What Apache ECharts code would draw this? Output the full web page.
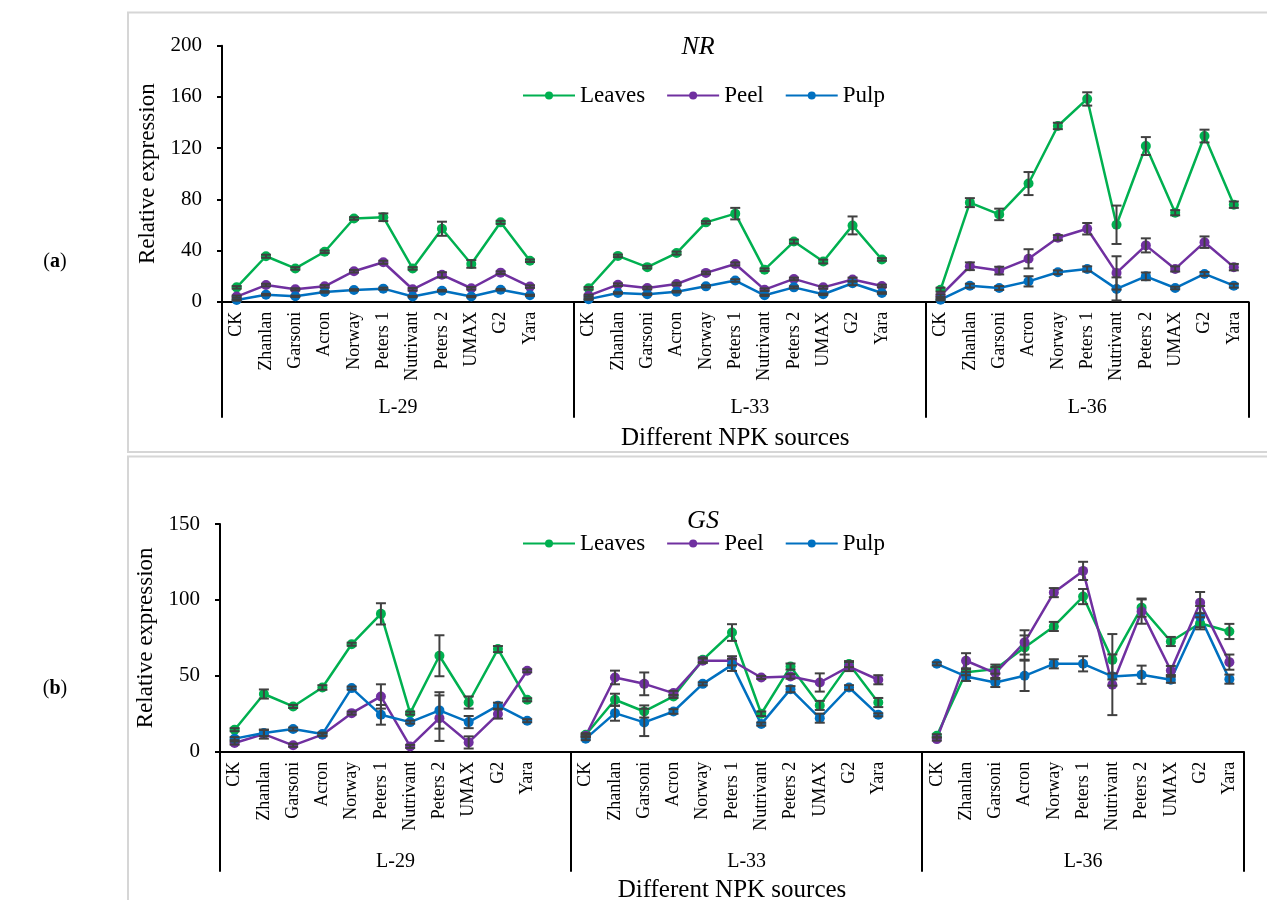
<!DOCTYPE html>
<html>
<head>
<meta charset="utf-8">
<script src="https://cdn.jsdelivr.net/npm/echarts@6/dist/echarts.min.js"></script>
<style>
html,body{margin:0;padding:0;background:#fff}
#chart{width:1267px;height:900px}
</style>
</head>
<body>
<div id="chart"></div>
<script>
// NPK fertiliser sources (one block per line) and the three lines
const SOURCES = ['CK','Zhanlan','Garsoni','Acron','Norway','Peters 1','Nutrivant','Peters 2','UMAX','G2','Yara'];
const LINES = ['L-29','L-33','L-36'];
const TISSUES = ['Leaves','Peel','Pulp'];

// NR relative expression, one row per line (L-29, L-33, L-36)
const NR_LEAVES = [
  [11.2, 35.5, 26, 39, 65, 66, 26, 57, 29.5, 62, 32],
  [10.5, 35.8, 27, 38, 62, 68.8, 25, 47, 31.4, 59.6, 33],
  [9.4, 77.4, 68.2, 92.3, 137.3, 158.4, 60.1, 121.6, 69.5, 129.4, 75.8]
];
const NR_LEAVES_SD = [
  [1, 1.2, 1, 1, 1, 3, 1, 5.5, 3, 1.2, 1],
  [1, 1, 1, 1.2, 1, 4.5, 1, 1.5, 1.5, 7, 1],
  [1.5, 3.5, 4.5, 9, 2.5, 5.2, 15, 7, 2, 5, 2.5]
];
const NR_PEEL = [
  [4, 13, 9.7, 12, 23.8, 30.8, 9.7, 21, 10.5, 22.7, 11.8],
  [4.7, 13.3, 10.7, 13.8, 22.5, 29.5, 9.4, 17.8, 11.2, 17.3, 12.3],
  [4.7, 27.7, 24.3, 33.5, 50, 57, 22.5, 44, 25.6, 46.5, 27]
];
const NR_PEEL_SD = [
  [0.8, 1, 0.8, 1, 1, 1.2, 1, 2, 1, 1, 1],
  [0.8, 1, 1, 1, 1, 1.2, 1, 1, 1, 1.5, 1],
  [1, 3, 3, 7.5, 2, 4.5, 13, 5.5, 2, 4.5, 2.5]
];
const NR_PULP = [
  [1.3, 5.5, 4.2, 7.6, 9.2, 10.2, 4, 8.6, 4, 9.4, 5],
  [2, 6.8, 5.8, 7.8, 12, 16.5, 5, 11.2, 5.8, 14.4, 6.8],
  [1.6, 12.5, 10.7, 15.9, 23, 25.6, 10, 19.8, 10.7, 21.7, 12.5]
];
const NR_PULP_SD = [
  [0.5, 0.6, 0.5, 0.6, 0.6, 0.8, 0.5, 0.6, 0.5, 0.6, 0.5],
  [0.5, 0.6, 0.6, 0.6, 0.8, 1, 0.5, 0.8, 0.6, 1.5, 0.6],
  [0.6, 1.5, 1.5, 4, 1.5, 2, 9, 3, 1, 1.5, 1.5]
];

// GS relative expression
const GS_LEAVES = [
  [14.5, 38, 29.8, 42.3, 70.8, 90.8, 25.4, 63.2, 32.4, 67.6, 34.2],
  [11.2, 34.2, 26.5, 36.4, 60.5, 78.5, 25, 56.1, 30.5, 57.7, 32.4],
  [10.5, 52.4, 54.4, 68.6, 82.5, 102.2, 60.5, 94.9, 72.6, 84.6, 79.2]
];
const GS_LEAVES_SD = [
  [1, 3, 1, 1.5, 1, 7, 1, 13.5, 4, 2, 1],
  [1, 4, 4, 1, 1.5, 5.5, 1.5, 2, 3, 2, 3],
  [1, 2, 3, 8, 3, 5, 17, 6, 3, 4, 5]
];
const GS_PEEL = [
  [5.7, 11.6, 4.2, 11.2, 25.4, 36.4, 3.5, 22.1, 6.1, 24.8, 53.3],
  [10.5, 48.9, 44.7, 38.6, 59.9, 59.9, 48.9, 49.6, 45.6, 56.1, 47.4],
  [8.3, 59.9, 51.8, 72, 104.8, 119.1, 44.1, 92.3, 53.5, 98.2, 59]
];
const GS_PEEL_SD = [
  [1, 3, 1, 1, 1, 8, 1, 15, 4, 3, 1],
  [1, 4.5, 7.5, 1.5, 1.5, 3, 1, 1.5, 6, 3, 3],
  [1, 5, 4, 8, 3, 6, 20, 8, 3, 7, 5]
];
const GS_PULP = [
  [8.6, 12.3, 14.9, 11.6, 41.9, 24.3, 19.5, 27.2, 19.5, 30.3, 20.4],
  [8.6, 25.4, 19.3, 26.5, 44.7, 57.2, 18.2, 41.2, 22.1, 42.3, 24.3],
  [57.9, 49.6, 45.6, 50, 57.9, 57.9, 49.6, 50.7, 47.4, 89, 47.8]
];
const GS_PULP_SD = [
  [1, 2, 1, 1, 1, 6.5, 1, 12, 4, 2, 1],
  [1, 5, 9, 1.5, 1, 4, 1, 2, 3, 1.5, 1],
  [1, 3, 3, 10, 3, 5, 2, 6, 2, 7, 3]
];

// axis ticks
const NR_TICKS = { min: 0, max: 200, interval: 40 };
const GS_TICKS = { min: 0, max: 150, interval: 50 };

const COLORS = { Leaves: '#00B050', Peel: '#7030A0', Pulp: '#0070C0' };
const FONT = '"Liberation Serif", "Times New Roman", serif';

// one empty slot after each block so the lines break between blocks
const categories = [];
LINES.forEach((l, g) => { if (g) categories.push(''); categories.push(...SOURCES); });
function flat(groups) {
  const out = [];
  groups.forEach((arr, g) => { if (g) out.push(null); out.push(...arr); });
  return out;
}
function errData(vals, sds) {
  const v = flat(vals), e = flat(sds);
  const out = [];
  v.forEach((y, i) => { if (y != null) out.push([i, y, e[i]]); });
  return out;
}
// block boundaries and centres along the category axis
const bounds = [];
const centres = [];
LINES.forEach((l, g) => {
  const start = g * (SOURCES.length + 1);
  const end = g === LINES.length - 1 ? categories.length : start + SOURCES.length + 1;
  bounds.push(start);
  if (g === LINES.length - 1) bounds.push(end);
  centres.push((start + end) / 2);
});

function errorRender(params, api) {
  const x = api.value(0), y = api.value(1), e = api.value(2);
  const hi = api.coord([x, y + e]);
  const lo = api.coord([x, y - e]);
  const w = 5;
  const st = { stroke: '#404040', lineWidth: 2 };
  return {
    type: 'group',
    children: [
      { type: 'line', shape: { x1: hi[0], y1: hi[1], x2: lo[0], y2: lo[1] }, style: st },
      { type: 'line', shape: { x1: hi[0] - w, y1: hi[1], x2: hi[0] + w, y2: hi[1] }, style: st },
      { type: 'line', shape: { x1: lo[0] - w, y1: lo[1], x2: lo[0] + w, y2: lo[1] }, style: st }
    ]
  };
}

function panelSeries(sets, xi, yi) {
  const out = [];
  sets.forEach(([name, vals]) => {
    out.push({
      name, type: 'line', xAxisIndex: xi, yAxisIndex: yi,
      data: flat(vals), connectNulls: false,
      symbol: 'circle', symbolSize: 10, showSymbol: true,
      lineStyle: { width: 2.5, color: COLORS[name] },
      itemStyle: { color: COLORS[name] },
      z: 3, animation: false
    });
  });
  sets.forEach(([name, vals, sds]) => {
    out.push({
      name: name + ' SD', type: 'custom', xAxisIndex: xi, yAxisIndex: yi,
      data: errData(vals, sds), renderItem: errorRender,
      encode: { x: 0, y: 1 }, z: 4, silent: true, animation: false
    });
  });
  return out;
}

function catAxis(gridIndex) {
  return {
    type: 'category', gridIndex, data: categories, boundaryGap: true,
    axisLine: { show: true, lineStyle: { color: '#000', width: 2 } },
    axisTick: { show: false },
    axisLabel: { interval: 0, rotate: 90, margin: 10, color: '#000', fontFamily: FONT, fontSize: 18 }
  };
}
function groupAxis(gridIndex, tickLen, labelMargin, nameGap) {
  return {
    type: 'value', gridIndex, position: 'bottom', min: 0, max: categories.length,
    axisLine: { show: false },
    splitLine: { show: false },
    axisTick: { show: true, customValues: bounds, length: tickLen, inside: false,
                lineStyle: { color: '#000', width: 2 } },
    axisLabel: { customValues: centres, margin: labelMargin, color: '#000', fontFamily: FONT, fontSize: 20,
                 formatter: v => LINES[centres.indexOf(v)] || '' },
    name: 'Different NPK sources', nameLocation: 'middle', nameGap,
    nameTextStyle: { color: '#000', fontFamily: FONT, fontSize: 25 }
  };
}
function valAxis(gridIndex, t) {
  return {
    type: 'value', gridIndex, min: t.min, max: t.max, interval: t.interval,
    axisLine: { show: true, lineStyle: { color: '#000', width: 2 } },
    axisTick: { show: true, length: 5, inside: false, lineStyle: { color: '#000', width: 2 } },
    axisLabel: { margin: 20, color: '#000', fontFamily: FONT, fontSize: 21 },
    splitLine: { show: false },
    name: 'Relative expression', nameLocation: 'middle', nameGap: 58,
    nameTextStyle: { color: '#000', fontFamily: FONT, fontSize: 23 }
  };
}
function legend(top) {
  return {
    data: TISSUES, left: 517, top, itemWidth: 52, itemHeight: 10, itemGap: 21,
    textStyle: { color: '#000', fontFamily: FONT, fontSize: 23 }
  };
}
function panelText(x, y, text, size, style) {
  return { type: 'text', x, y, style: { text, font: style + ' ' + size + 'px ' + FONT, fill: '#000', align: 'center', verticalAlign: 'middle' } };
}
function letterLabel(y, letter) {
  return {
    type: 'text', x: 55, y,
    style: { text: '({b|' + letter + '})', font: '20px ' + FONT, fill: '#000', align: 'center', verticalAlign: 'middle',
             rich: { b: { fontWeight: 'bold', fontSize: 20, fontFamily: FONT } } }
  };
}

const chart = echarts.init(document.getElementById('chart'), null, { renderer: 'canvas' });
chart.setOption({
  animation: false,
  backgroundColor: '#fff',
  grid: [
    { left: 222, right: 18.5, top: 45.7, bottom: 900 - 301.7, outerBoundsMode: 'none', containLabel: false },
    { left: 220, right: 23, top: 524, bottom: 900 - 751.7, outerBoundsMode: 'none', containLabel: false }
  ],
  xAxis: [catAxis(0), groupAxis(0, 116, 96, 124), catAxis(1), groupAxis(1, 120, 100, 126)],
  yAxis: [valAxis(0, NR_TICKS), valAxis(1, GS_TICKS)],
  legend: [legend(79), legend(527)],
  series: [
    ...panelSeries([['Leaves', NR_LEAVES, NR_LEAVES_SD], ['Peel', NR_PEEL, NR_PEEL_SD], ['Pulp', NR_PULP, NR_PULP_SD]], 0, 0),
    ...panelSeries([['Leaves', GS_LEAVES, GS_LEAVES_SD], ['Peel', GS_PEEL, GS_PEEL_SD], ['Pulp', GS_PULP, GS_PULP_SD]], 2, 1)
  ],
  graphic: [
    { type: 'rect', shape: { x: 128, y: 12.5, width: 1200, height: 439.5 }, style: { fill: 'none', stroke: '#d6d6d6', lineWidth: 2 }, z: -1 },
    { type: 'rect', shape: { x: 128, y: 456.5, width: 1200, height: 500 }, style: { fill: 'none', stroke: '#d6d6d6', lineWidth: 2 }, z: -1 },
    panelText(698, 47, 'NR', 26, 'italic'),
    panelText(703, 521, 'GS', 26, 'italic'),
    letterLabel(262, 'a'),
    letterLabel(689, 'b')
  ]
});
</script>
</body>
</html>
